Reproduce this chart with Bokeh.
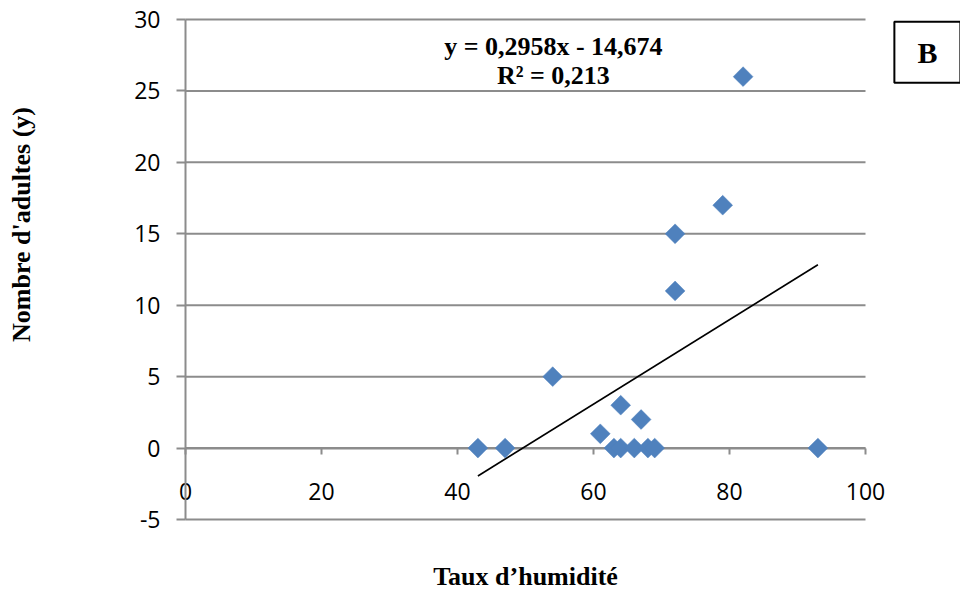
import numpy as np
from bokeh.plotting import figure
from bokeh.models import (Label, Range1d, FixedTicker, LinearAxis,
                          PrintfTickFormatter)
from bokeh.embed import file_html
from bokeh.resources import INLINE

# ---- data ----
humidity = [43, 47, 54, 61, 63, 64, 64, 66, 67, 68, 69, 72, 72, 79, 82, 93]
adults   = [0, 0, 5, 1, 0, 3, 0, 0, 2, 0, 0, 11, 15, 17, 26, 0]
slope = 0.2958
intercept = -14.674
equation_text = "y = 0,2958x - 14,674"
r2_text = "R\u00b2 = 0,213"
panel_letter = "B"
x_title = "Taux d\u2019humidit\u00e9"
y_title = "Nombre d'adultes (y)"
x_ticks = [0, 20, 40, 60, 80, 100]
y_ticks = [-5, 0, 5, 10, 15, 20, 25, 30]

GRID = "#8c8c8c"
BLUE = "#4f81bd"
W, H = 960, 590
# plot area of the reference in pixels
PL, PR, PT, PB = 185, 865, 19, 519
xs = (PR - PL) / (x_ticks[-1] - x_ticks[0])
ys = (PB - PT) / (y_ticks[-1] - y_ticks[0])
x_range = Range1d(x_ticks[0] - PL / xs, x_ticks[-1] + (W - PR) / xs)
y_range = Range1d(y_ticks[0] - (H - PB) / ys, y_ticks[-1] + PT / ys)

p = figure(width=W, height=H, output_backend="svg", toolbar_location=None,
           x_range=x_range, y_range=y_range,
           min_border_left=0, min_border_right=0,
           min_border_top=0, min_border_bottom=0)
p.outline_line_color = None
p.background_fill_color = "white"
p.border_fill_color = "white"
p.xgrid.visible = False
p.ygrid.visible = False

# horizontal grid lines over the plot area only
p.segment(x0=[x_ticks[0]] * len(y_ticks), x1=[x_ticks[-1]] * len(y_ticks),
          y0=y_ticks, y1=y_ticks, line_color=GRID, line_width=2)

# y axis at x = 0
ya = p.yaxis[0]
ya.fixed_location = 0
ya.bounds = (y_ticks[0], y_ticks[-1])
ya.ticker = FixedTicker(ticks=y_ticks)
ya.formatter = PrintfTickFormatter(format="%d")
ya.axis_line_color = GRID
ya.axis_line_width = 2
ya.major_tick_line_color = GRID
ya.major_tick_line_width = 2
ya.major_tick_out = 9
ya.major_tick_in = 0
ya.minor_tick_line_color = None
ya.major_label_standoff = 16
ya.major_label_text_font = "Open Sans"
ya.major_label_text_font_size = "23px"
ya.major_label_text_color = "black"
ya.level = "underlay"

# y title axis (title only)
yt = LinearAxis(fixed_location=0, bounds=(1.3, y_ticks[-1]),
                ticker=FixedTicker(ticks=[]), axis_line_color=None,
                major_tick_line_color=None, minor_tick_line_color=None,
                axis_label=y_title, axis_label_standoff=150,
                axis_label_text_font="Liberation Serif",
                axis_label_text_font_style="bold",
                axis_label_text_font_size="26px",
                axis_label_text_color="black")
p.add_layout(yt, "left")

# x axis crossing at y = 0
xa = p.xaxis[0]
xa.fixed_location = 0
xa.bounds = (x_ticks[0], x_ticks[-1])
xa.ticker = FixedTicker(ticks=x_ticks)
xa.axis_line_color = GRID
xa.axis_line_width = 2
xa.major_tick_line_color = GRID
xa.major_tick_line_width = 2
xa.major_tick_out = 6
xa.major_tick_in = 0
xa.minor_tick_line_color = None
xa.major_label_standoff = 29
xa.major_label_text_font = "Open Sans"
xa.major_label_text_font_size = "23px"
xa.major_label_text_color = "black"
xa.axis_label = x_title
xa.axis_label_text_font = "Liberation Serif"
xa.axis_label_text_font_style = "bold"
xa.axis_label_text_font_size = "26px"
xa.axis_label_text_color = "black"
xa.axis_label_standoff = 58
xa.level = "underlay"

# trend line
tx = np.array([min(humidity), max(humidity)], dtype=float)
ty = slope * tx + intercept
p.line(tx, ty, line_color="black", line_width=1.6)

# points
p.scatter(humidity, adults, marker="square", angle=np.pi / 4, size=14,
          fill_color=BLUE, line_color=BLUE, line_width=0.5)

# equation labels
for txt, yy in [(equation_text, 28.1), (r2_text, 26.05)]:
    p.add_layout(Label(x=54.1, y=yy, text=txt, text_align="center",
                       text_baseline="middle", text_font="Liberation Serif",
                       text_font_style="bold", text_font_size="26px",
                       text_color="black"))

# panel letter box
p.add_layout(Label(x=109.1, y=27.7, text=panel_letter, text_align="center",
                   text_baseline="middle", text_font="Liberation Serif",
                   text_font_style="bold", text_font_size="30px",
                   text_color="black", border_line_color="black",
                   border_line_width=2, background_fill_color="white",
                   padding=dict(left=23, right=23, top=14, bottom=14)))

open("out.html", "w").write(file_html(p, INLINE))
